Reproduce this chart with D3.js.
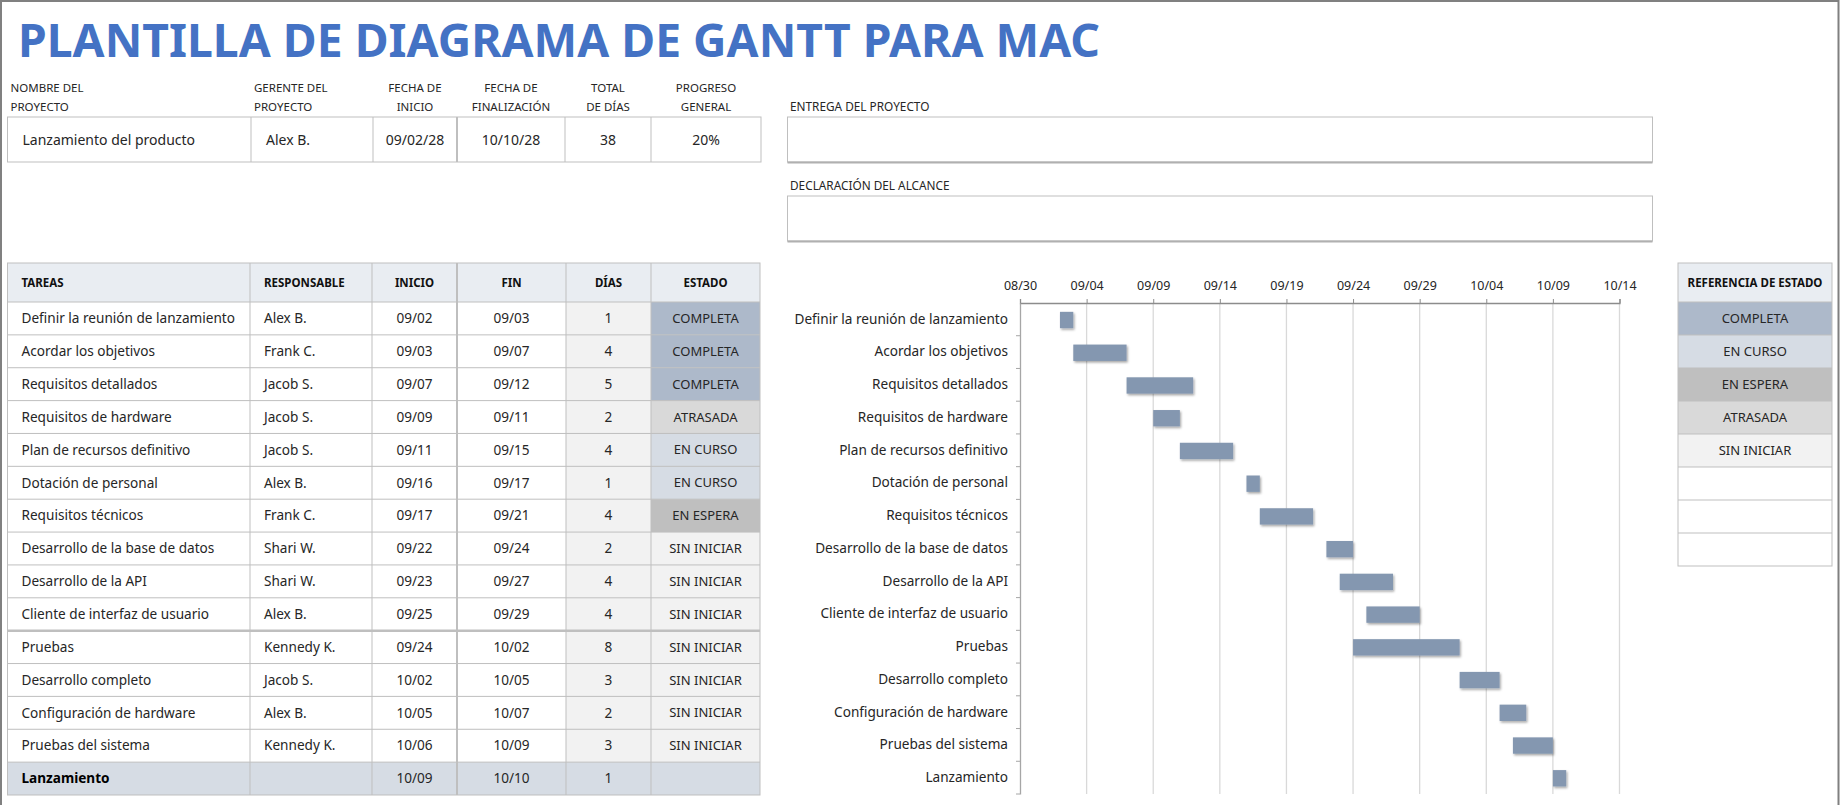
<!DOCTYPE html>
<html>
<head>
<meta charset="utf-8">
<script src="https://cdn.jsdelivr.net/npm/d3@7"></script>
<style>
  html, body { margin: 0; padding: 0; background: #fff; }
  svg { display: block; }
  text { font-family: "Noto Sans", "DejaVu Sans", sans-serif; fill: #262626; }
</style>
</head>
<body>
<svg id="chart" width="1840" height="805"></svg>
<script>
// ---------------- DATA ----------------
const pageTitle = "PLANTILLA DE DIAGRAMA DE GANTT PARA MAC";
const infoLabels = [["NOMBRE DEL", "PROYECTO"], ["GERENTE DEL", "PROYECTO"], ["FECHA DE", "INICIO"], ["FECHA DE", "FINALIZACIÓN"], ["TOTAL", "DE DÍAS"], ["PROGRESO", "GENERAL"]];
const infoValues = ["Lanzamiento del producto", "Alex B.", "09/02/28", "10/10/28", "38", "20%"];
const boxLabels = ["ENTREGA DEL PROYECTO", "DECLARACIÓN DEL ALCANCE"];
const tableHeaders = ["TAREAS", "RESPONSABLE", "INICIO", "FIN", "DÍAS", "ESTADO"];
const tasks = ["Definir la reunión de lanzamiento", "Acordar los objetivos", "Requisitos detallados", "Requisitos de hardware", "Plan de recursos definitivo", "Dotación de personal", "Requisitos técnicos", "Desarrollo de la base de datos", "Desarrollo de la API", "Cliente de interfaz de usuario", "Pruebas", "Desarrollo completo", "Configuración de hardware", "Pruebas del sistema", "Lanzamiento"];
const owners = ["Alex B.", "Frank C.", "Jacob S.", "Jacob S.", "Jacob S.", "Alex B.", "Frank C.", "Shari W.", "Shari W.", "Alex B.", "Kennedy K.", "Jacob S.", "Alex B.", "Kennedy K.", ""];
const startDates = ["09/02", "09/03", "09/07", "09/09", "09/11", "09/16", "09/17", "09/22", "09/23", "09/25", "09/24", "10/02", "10/05", "10/06", "10/09"];
const endDates = ["09/03", "09/07", "09/12", "09/11", "09/15", "09/17", "09/21", "09/24", "09/27", "09/29", "10/02", "10/05", "10/07", "10/09", "10/10"];
const durations = [1, 4, 5, 2, 4, 1, 4, 2, 4, 4, 8, 3, 2, 3, 1];
const statuses = ["COMPLETA", "COMPLETA", "COMPLETA", "ATRASADA", "EN CURSO", "EN CURSO", "EN ESPERA", "SIN INICIAR", "SIN INICIAR", "SIN INICIAR", "SIN INICIAR", "SIN INICIAR", "SIN INICIAR", "SIN INICIAR", ""];
const tickLabels = ["08/30", "09/04", "09/09", "09/14", "09/19", "09/24", "09/29", "10/04", "10/09", "10/14"];
const refTitle = "REFERENCIA DE ESTADO";
const refStatuses = ["COMPLETA", "EN CURSO", "EN ESPERA", "ATRASADA", "SIN INICIAR", "", "", ""];
const refColors = ["#ADB9CA", "#D6DCE4", "#BFBFBF", "#D9D9D9", "#F2F2F2", "#FFFFFF", "#FFFFFF", "#FFFFFF"];
const year = 2028;

// ---------------- SETUP ----------------
const svg = d3.select("#chart");
const parse = s => d3.utcParse("%m/%d/%Y")(s + "/" + year);
const statusColor = d3.scaleOrdinal().domain(refStatuses.slice(0, 5)).range(refColors.slice(0, 5)).unknown("#D6DCE4");
const GRID = "#BFBFBF";
const HEAD = "#E9EDF2";
const BODY_FS = "13.6px";

// defs: bar shadow
const defs = svg.append("defs");
const f = defs.append("filter").attr("id", "shadow").attr("x", "-20%").attr("y", "-30%").attr("width", "150%").attr("height", "180%");
f.append("feDropShadow").attr("dx", 1.2).attr("dy", 1.6).attr("stdDeviation", 1.1).attr("flood-color", "#000").attr("flood-opacity", 0.35);

// page frame
svg.append("path").attr("d", "M1,805 V1 H1838.5 V805").attr("fill", "none").attr("stroke", "#808080").attr("stroke-width", 2);

// ---------------- TITLE ----------------
svg.append("text").attr("x", 18).attr("y", 57).text(pageTitle)
  .style("font-family", "'Noto Sans', sans-serif").style("font-weight", 700).style("font-size", "46px")
  .style("fill", "#4472C4").attr("textLength", 1082).attr("lengthAdjust", "spacingAndGlyphs");

// ---------------- PROJECT INFO ----------------
const infoX = [7.5, 251, 373, 457, 565, 651, 761];
const infoAlign = ["start", "start", "middle", "middle", "middle", "middle"];
const infoG = svg.append("g");
infoLabels.forEach((lines, i) => {
  const x = infoAlign[i] === "start" ? infoX[i] + 3 : (infoX[i] + infoX[i + 1]) / 2;
  lines.forEach((ln, j) => {
    infoG.append("text").attr("x", x).attr("y", 88 + j * 19).attr("dy", "0.35em")
      .attr("text-anchor", infoAlign[i]).style("font-size", "11.5px").text(ln);
  });
  const vx = infoAlign[i] === "start" ? infoX[i] + 15 : x;
  infoG.append("text").attr("x", vx).attr("y", 140).attr("dy", "0.35em")
    .attr("text-anchor", infoAlign[i]).style("font-size", "14px").text(infoValues[i]);
});
infoG.append("rect").attr("x", infoX[0]).attr("y", 117).attr("width", infoX[6] - infoX[0]).attr("height", 45)
  .attr("fill", "none").attr("stroke", GRID);
infoX.slice(1, 6).forEach((x, i) => {
  infoG.append("line").attr("x1", x).attr("x2", x).attr("y1", 117).attr("y2", 162)
    .attr("stroke", GRID).attr("stroke-width", i === 2 ? 2 : 1);
});

// right text boxes
boxLabels.forEach((lbl, i) => {
  const y0 = 117 + i * 79;
  svg.append("text").attr("x", 790).attr("y", y0 - 10).attr("dy", "0.35em").style("font-size", "11.8px").text(lbl);
  svg.append("rect").attr("x", 787.5).attr("y", y0).attr("width", 865).attr("height", 45)
    .attr("fill", "none").attr("stroke", GRID);
  svg.append("line").attr("x1", 787.5).attr("x2", 1652.5).attr("y1", y0 + 45.5).attr("y2", y0 + 45.5)
    .attr("stroke", "#B0B0B0").attr("stroke-width", 2);
});

// ---------------- TASK TABLE ----------------
const colX = [7.5, 250, 372, 457, 566, 651, 760];
const colAlign = ["start", "start", "middle", "middle", "middle", "middle"];
const tableTop = 263, headBottom = 302, tableBottom = 795;
const rowY = d3.scaleBand().domain(d3.range(tasks.length)).range([headBottom, tableBottom]);
const tbl = svg.append("g");
const cellX = i => colAlign[i] === "start" ? colX[i] + 14 : (colX[i] + colX[i + 1]) / 2;

tbl.append("rect").attr("x", colX[0]).attr("y", tableTop).attr("width", colX[6] - colX[0]).attr("height", headBottom - tableTop).attr("fill", HEAD);
tableHeaders.forEach((h, i) => {
  tbl.append("text").attr("x", cellX(i)).attr("y", (tableTop + headBottom) / 2).attr("dy", "0.35em")
    .attr("text-anchor", colAlign[i]).style("font-size", "11.5px").style("font-weight", 700).style("fill", "#111").text(h);
});

const rows = tbl.selectAll("g.row").data(tasks.map((t, i) => ({
  i, cells: [t, owners[i], startDates[i], endDates[i], String(durations[i]), statuses[i]],
  last: i === tasks.length - 1
}))).join("g").attr("class", "row");

rows.each(function (d) {
  const g = d3.select(this);
  const y = rowY(d.i), h = rowY.bandwidth();
  d.cells.forEach((c, j) => {
    let fill = "#FFFFFF";
    if (d.last) fill = "#D6DCE4";
    else if (j === 4) fill = "#F2F2F2";
    else if (j === 5) fill = statusColor(c);
    g.append("rect").attr("x", colX[j]).attr("y", y).attr("width", colX[j + 1] - colX[j]).attr("height", h).attr("fill", fill);
    g.append("text").attr("x", cellX(j)).attr("y", y + h / 2).attr("dy", "0.35em")
      .attr("text-anchor", colAlign[j]).style("font-size", j === 5 ? "13px" : BODY_FS)
      .style("font-weight", d.last && j === 0 ? 700 : 400).style("fill", d.last && j === 0 ? "#000" : "#262626")
      .text(c);
  });
});

// table grid
const grid = tbl.append("g").attr("stroke", GRID).attr("fill", "none");
grid.append("rect").attr("x", colX[0]).attr("y", tableTop).attr("width", colX[6] - colX[0]).attr("height", tableBottom - tableTop);
d3.range(tasks.length).forEach(i => {
  const y = rowY(i);
  grid.append("line").attr("x1", colX[0]).attr("x2", colX[6]).attr("y1", y).attr("y2", y).attr("stroke-width", i === 10 ? 2.5 : 1);
});
colX.slice(1, 6).forEach((x, i) => {
  grid.append("line").attr("x1", x).attr("x2", x).attr("y1", tableTop).attr("y2", tableBottom).attr("stroke-width", i === 2 ? 2 : 1);
});

// ---------------- GANTT ----------------
const x = d3.scaleUtc().domain([parse(tickLabels[0]), parse(tickLabels[tickLabels.length - 1])]).range([1020, 1619.5]);
const y = d3.scaleBand().domain(tasks).range([303, 794]);
const gantt = svg.append("g");

// gridlines
gantt.append("g").selectAll("line").data(tickLabels.slice(1)).join("line")
  .attr("x1", d => x(parse(d))).attr("x2", d => x(parse(d))).attr("y1", 303).attr("y2", 794)
  .attr("stroke", "#D9D9D9").attr("stroke-width", 1.3);

// top axis
const xAxis = d3.axisTop(x).tickValues(tickLabels.map(parse)).tickFormat(d3.utcFormat("%m/%d")).tickSize(4).tickPadding(9);
const xa = gantt.append("g").attr("transform", "translate(0,303)").call(xAxis);
xa.select(".domain").attr("stroke", "#8C8C8C").attr("stroke-width", 1.3);
xa.selectAll(".tick line").attr("stroke", "#8C8C8C");
xa.selectAll(".tick text").style("font-family", "'Noto Sans', sans-serif").style("font-size", "12.5px").attr("fill", "#262626");

// left axis
const yAxis = d3.axisLeft(y).tickSize(0).tickPadding(12);
const ya = gantt.append("g").attr("transform", "translate(1020,0)").call(yAxis);
ya.select(".domain").attr("stroke", "#A6A6A6").attr("stroke-width", 1.3);
ya.selectAll(".tick text").style("font-family", "'Noto Sans', sans-serif").style("font-size", "13.6px").attr("fill", "#262626");
gantt.append("g").selectAll("line").data(tasks).join("line")
  .attr("x1", 1016).attr("x2", 1020).attr("y1", d => y(d) + y.bandwidth()).attr("y2", d => y(d) + y.bandwidth())
  .attr("stroke", "#A6A6A6");

// bars
gantt.append("g").selectAll("rect").data(tasks.map((t, i) => ({ t, s: parse(startDates[i]), e: parse(endDates[i]) })))
  .join("rect")
  .attr("x", d => x(d.s)).attr("width", d => x(d.e) - x(d.s))
  .attr("y", d => y(d.t) + y.bandwidth() * 0.27).attr("height", y.bandwidth() * 0.5)
  .attr("fill", "#8497B0").attr("filter", "url(#shadow)");

// ---------------- STATUS REFERENCE ----------------
const refX0 = 1678, refX1 = 1832;
const refY = d3.scaleBand().domain(d3.range(refStatuses.length)).range([headBottom, headBottom + 33 * refStatuses.length]);
const ref = svg.append("g");
ref.append("rect").attr("x", refX0).attr("y", tableTop).attr("width", refX1 - refX0).attr("height", headBottom - tableTop).attr("fill", HEAD);
ref.append("text").attr("x", (refX0 + refX1) / 2).attr("y", (tableTop + headBottom) / 2).attr("dy", "0.35em")
  .attr("text-anchor", "middle").style("font-size", "11.5px").style("font-weight", 700).style("fill", "#111").text(refTitle);
refStatuses.forEach((s, i) => {
  ref.append("rect").attr("x", refX0).attr("y", refY(i)).attr("width", refX1 - refX0).attr("height", refY.bandwidth()).attr("fill", refColors[i]);
  ref.append("text").attr("x", (refX0 + refX1) / 2).attr("y", refY(i) + refY.bandwidth() / 2).attr("dy", "0.35em")
    .attr("text-anchor", "middle").style("font-size", "13px").text(s);
  ref.append("line").attr("x1", refX0).attr("x2", refX1).attr("y1", refY(i)).attr("y2", refY(i)).attr("stroke", GRID);
});
ref.append("rect").attr("x", refX0).attr("y", tableTop).attr("width", refX1 - refX0)
  .attr("height", headBottom + 33 * refStatuses.length - tableTop).attr("fill", "none").attr("stroke", GRID);
</script>
</body>
</html>
